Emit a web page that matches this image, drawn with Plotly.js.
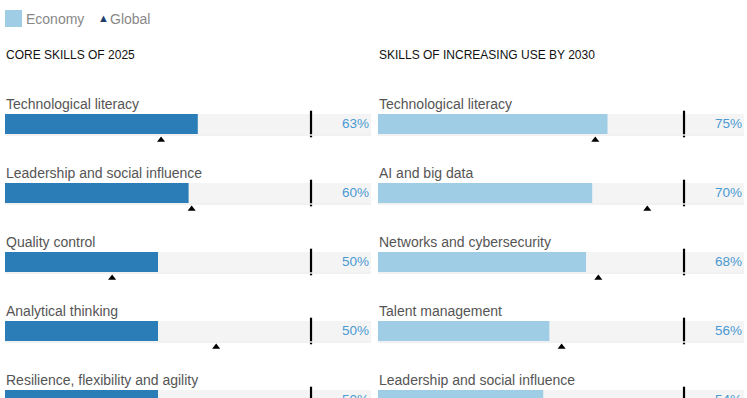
<!DOCTYPE html>
<html>
<head>
<meta charset="utf-8">
<script src="https://cdn.plot.ly/plotly-3.0.1.min.js"></script>
<style>
  html, body { margin: 0; padding: 0; background: #fff; }
  #chart { width: 747px; height: 398px; }
</style>
</head>
<body>
<div id="chart"></div>
<script>
// data
var coreSkills = ['Technological literacy', 'Leadership and social influence', 'Quality control',
  'Analytical thinking', 'Resilience, flexibility and agility'];
var coreEconomy = [63, 60, 50, 50, 50];
var coreGlobal = [51, 61, 35, 69, 66];

var growthSkills = ['Technological literacy', 'AI and big data', 'Networks and cybersecurity',
  'Talent management', 'Leadership and social influence'];
var growthEconomy = [75, 70, 68, 56, 54];
var growthGlobal = [71, 88, 72, 60, 62];

var panelTitles = ['CORE SKILLS OF 2025', 'SKILLS OF INCREASING USE BY 2030'];

var W = 747, H = 398;
var font = 'Helvetica, Arial, "Liberation Sans", sans-serif';
var darkBlue = '#2a7db6', lightBlue = '#a0cde6', track = '#f4f4f4';
var pctColor = '#4a9ad2', labelColor = '#555555';

// rows: first bar centre at 124px, 69px apart, 20px tall
var rowTop = 124, rowGap = 69, barPx = 20;
var full = 119.6;   // grey track length in % units
var barW = barPx / rowGap;

function idx(arr){ return arr.map(function(d, i){ return i; }); }
// row index -> paper y (for text that may sit partly off the canvas)
function rowPaper(r, dpx){ return 1 - (rowTop + rowGap * r + dpx) / H; }

function main(){
  var traces = [], shapes = [], annotations = [];
  var panels = [
    {skills: coreSkills, eco: coreEconomy, glob: coreGlobal, color: darkBlue, xa: 'x'},
    {skills: growthSkills, eco: growthEconomy, glob: growthGlobal, color: lightBlue, xa: 'x2'}
  ];

  panels.forEach(function(p, k){
    var rows = idx(p.skills);
    traces.push({
      type: 'bar', orientation: 'h', x: rows.map(function(){ return full; }), y: rows,
      width: barW, marker: {color: track}, xaxis: p.xa, yaxis: 'y', showlegend: false, hoverinfo: 'skip'
    });
    traces.push({
      type: 'bar', orientation: 'h', x: p.eco, y: rows, name: 'Economy',
      width: barW, marker: {color: p.color}, xaxis: p.xa, yaxis: 'y', showlegend: false, hoverinfo: 'skip'
    });
    // 100% marker
    traces.push({
      type: 'scatter', mode: 'markers', x: rows.map(function(){ return 100; }), y: rows,
      marker: {symbol: 'line-ns', size: barPx - 1, line: {color: '#000', width: 2.2}},
      xaxis: p.xa, yaxis: 'y', showlegend: false, hoverinfo: 'skip'
    });
    // global triangles
    traces.push({
      type: 'scatter', mode: 'markers', x: p.glob, y: rows.map(function(r){ return r + 16 / rowGap; }),
      marker: {symbol: 'triangle-up', size: 7, color: '#000'}, name: 'Global',
      xaxis: p.xa, yaxis: 'y', showlegend: false, hoverinfo: 'skip'
    });

    rows.forEach(function(r){
      shapes.push({type: 'line', xref: p.xa, yref: 'y', x0: 0, x1: full,
        y0: r + (barPx / 2 + 1) / rowGap, y1: r + (barPx / 2 + 1) / rowGap,
        line: {color: '#ececec', width: 1.5}});
      annotations.push({xref: p.xa, yref: 'paper', x: 0, y: rowPaper(r, -20.5), xanchor: 'left', yanchor: 'middle',
        text: p.skills[r], showarrow: false, font: {family: font, size: 14, color: labelColor}, xshift: -1});
      annotations.push({xref: p.xa, yref: 'paper', x: full, y: rowPaper(r, -0.5), xanchor: 'right', yanchor: 'middle',
        text: p.eco[r] + '%', showarrow: false, font: {family: font, size: 13.5, color: pctColor}});
    });

    annotations.push({xref: p.xa + ' domain', yref: 'paper', x: 0, y: 1 - 55 / H, xanchor: 'left', yanchor: 'middle',
      text: panelTitles[k], showarrow: false, font: {family: font, size: 12, color: '#111'}, xshift: -1});
  });

  // legend drawn by hand
  shapes.push({type: 'rect', xref: 'paper', yref: 'paper', x0: 5 / W, x1: 22 / W, y0: 1 - 27 / H, y1: 1 - 10 / H,
    fillcolor: lightBlue, line: {width: 0}});
  annotations.push({xref: 'paper', yref: 'paper', x: 24 / W, y: 1 - 19 / H, xanchor: 'left', yanchor: 'middle',
    text: 'Economy', showarrow: false, font: {family: font, size: 14, color: '#888'}});
  annotations.push({xref: 'paper', yref: 'paper', x: 96 / W, y: 1 - 18.5 / H, xanchor: 'left', yanchor: 'middle',
    text: '\u25B2', showarrow: false, font: {family: font, size: 11, color: '#1f3d6b'}});
  annotations.push({xref: 'paper', yref: 'paper', x: 108 / W, y: 1 - 19 / H, xanchor: 'left', yanchor: 'middle',
    text: 'Global', showarrow: false, font: {family: font, size: 14, color: '#888'}});

  var layout = {
    width: W, height: H,
    margin: {l: 0, r: 0, t: 0, b: 0},
    paper_bgcolor: '#fff', plot_bgcolor: '#fff',
    barmode: 'overlay', showlegend: false,
    xaxis: {domain: [5 / W, 371 / W], range: [0, full], visible: false, fixedrange: true},
    xaxis2: {domain: [378 / W, 744 / W], range: [0, full], visible: false, fixedrange: true, anchor: 'y'},
    yaxis: {domain: [0, 1], range: [(H - rowTop) / rowGap, -rowTop / rowGap], visible: false, fixedrange: true},
    shapes: shapes,
    annotations: annotations
  };

  Plotly.newPlot('chart', traces, layout, {staticPlot: true, displayModeBar: false});
}

main();
</script>
</body>
</html>
